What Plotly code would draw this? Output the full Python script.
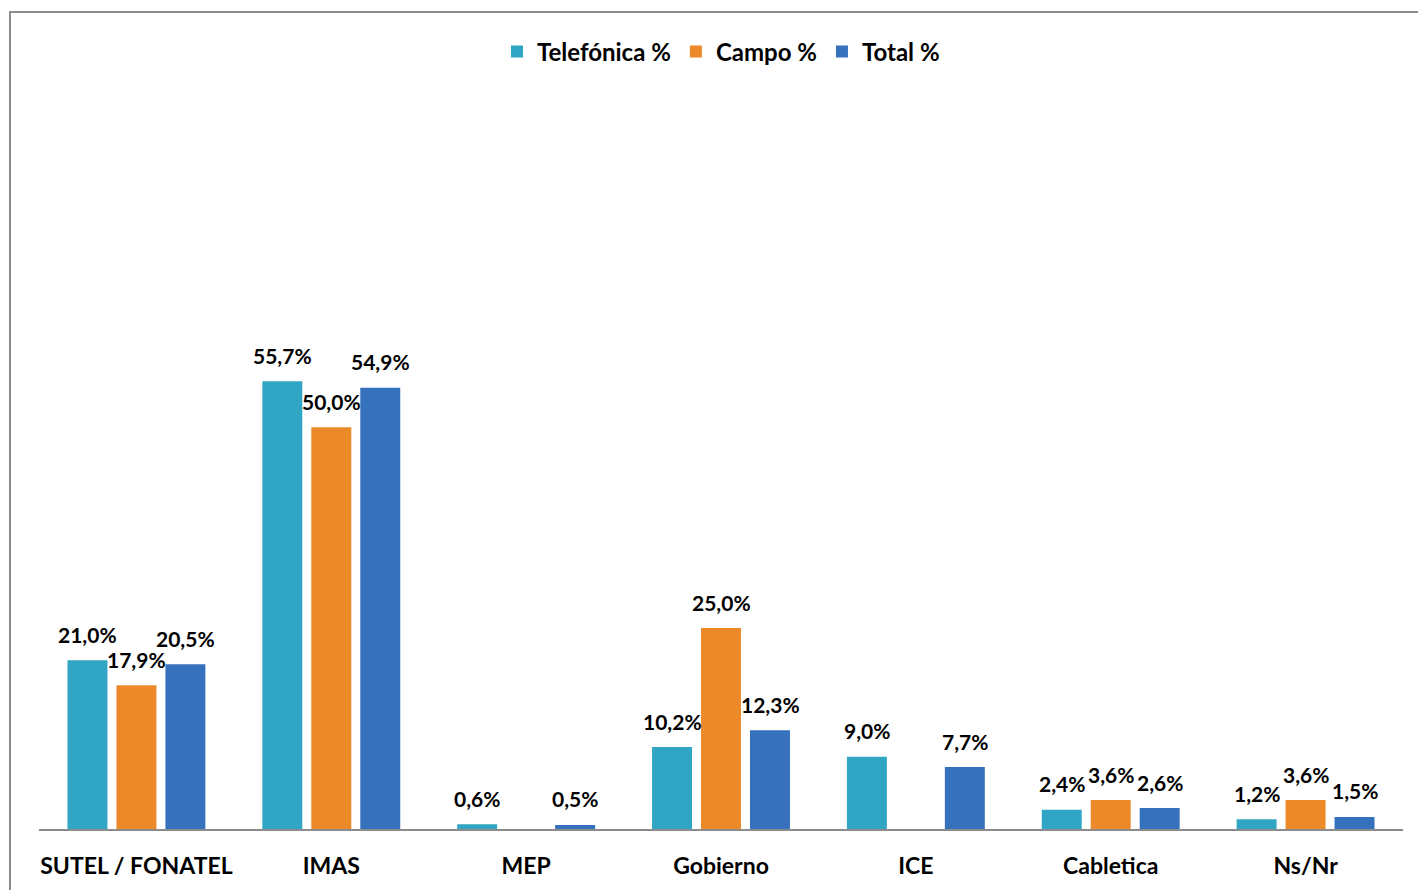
import plotly.graph_objects as go

categories = ["SUTEL / FONATEL", "IMAS", "MEP", "Gobierno", "ICE", "Cabletica", "Ns/Nr"]
telefonica = [21.0, 55.7, 0.6, 10.2, 9.0, 2.4, 1.2]
campo = [17.9, 50.0, None, 25.0, None, 3.6, 3.6]
total = [20.5, 54.9, 0.5, 12.3, 7.7, 2.6, 1.5]

series = [
    ("Telefónica %", telefonica, "#31A6C4"),
    ("Campo %", campo, "#EC8A2A"),
    ("Total %", total, "#3571BD"),
]

W, H = 1426, 890
# page is offset by the 8px body margin
off = 8
ml, mr, mt, mb = 39 - off, 31, 100 - off, 69
ymax = 90.7
FONT = "Lato, Carlito, Arial"

fig = go.Figure()
for name, vals, col in series:
    fig.add_trace(go.Bar(
        name=name, x=categories, y=vals,
        marker=dict(color=col, line=dict(width=0)),
    ))

# data labels
for si, (name, vals, col) in enumerate(series):
    for ci, v in enumerate(vals):
        if v is None:
            continue
        fig.add_annotation(
            x=ci, y=v, xref="x", yref="y",
            text=f"{v:.1f}%".replace(".", ","),
            showarrow=False, yanchor="middle", yshift=26,
            xshift=(si - 1) * 49,
            font=dict(family=FONT, size=21, color="#000000", weight="bold"),
        )

# outer border (paper coords)
pw = W - ml - mr
ph = H - mt - mb
x0 = (10 - off - ml) / pw
y1 = (H - mb - (12 - off)) / ph
fig.add_shape(type="rect", xref="paper", yref="paper",
              x0=x0, x1=(W + 20 - ml) / pw, y0=-(mb + 20) / ph, y1=y1,
              line=dict(color="#8C8C8C", width=2), fillcolor="rgba(0,0,0,0)", layer="below")

fig.update_layout(
    width=W, height=H,
    margin=dict(l=ml, r=mr, t=mt, b=mb, pad=0),
    paper_bgcolor="white", plot_bgcolor="white",
    barmode="group", bargap=0.246, bargroupgap=0.184,
    showlegend=True,
    legend=dict(orientation="h", x=0.5, xanchor="center", y=(H - mb - (52 - off)) / ph, yanchor="middle",
                font=dict(family=FONT, size=24, color="#000000", weight="bold"),
                itemwidth=30, tracegroupgap=0, traceorder="normal"),
    xaxis=dict(range=[-0.5, 6.5], showgrid=False, showline=True, linecolor="#8C8C8C", linewidth=1.5,
               ticks="", ticklabelstandoff=16,
               tickfont=dict(family=FONT, size=23, color="#000000", weight="bold")),
    yaxis=dict(range=[0, ymax], showgrid=False, showticklabels=False, zeroline=False, showline=False),
)

fig.write_html("out.html")
